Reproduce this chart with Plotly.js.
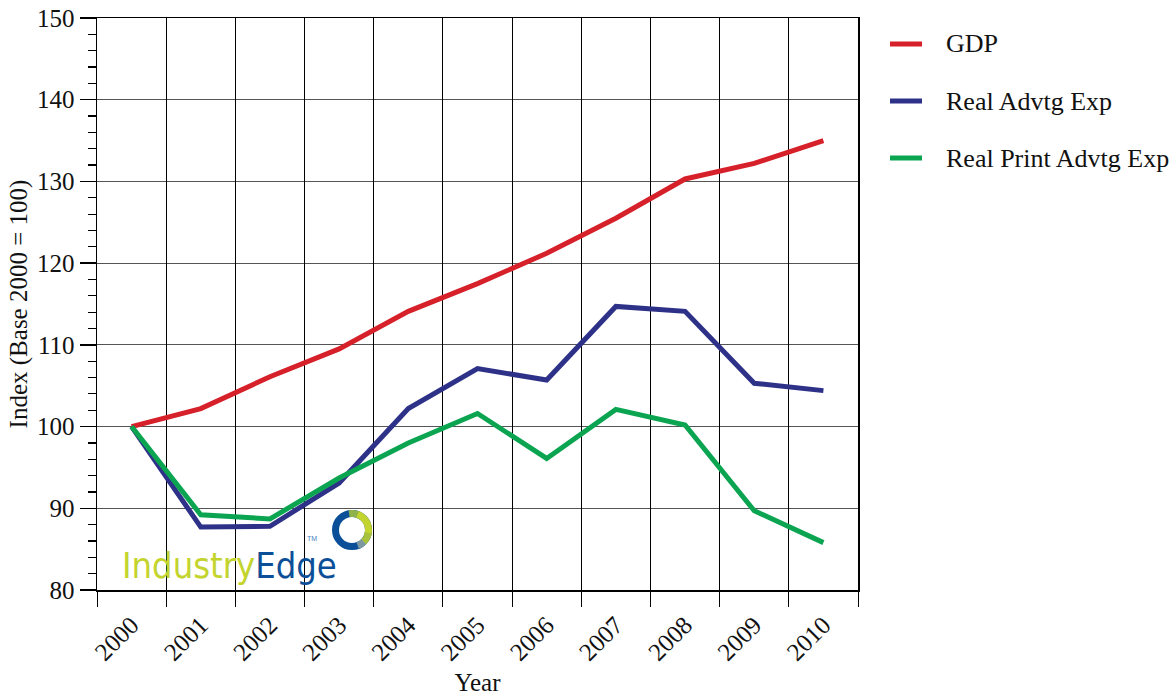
<!DOCTYPE html>
<html><head><meta charset="utf-8">
<script src="https://cdn.plot.ly/plotly-3.0.1.min.js"></script>
<style>html,body{margin:0;padding:0;background:#fff}#chart{width:1176px;height:696px}</style>
</head><body><div id="chart"></div>
<script>
// ---- data ----
const years = ['2000','2001','2002','2003','2004','2005','2006','2007','2008','2009','2010'];
const gdp = [100, 102.2, 106.1, 109.5, 114.1, 117.5, 121.2, 125.5, 130.3, 132.2, 135.0];
const realAdvtgExp = [100, 87.7, 87.8, 93.1, 102.2, 107.1, 105.7, 114.7, 114.1, 105.3, 104.4];
const realPrintAdvtgExp = [100, 89.2, 88.7, 93.7, 98.0, 101.6, 96.1, 102.1, 100.2, 89.7, 85.8];
const seriesNames = ['GDP', 'Real Advtg Exp', 'Real Print Advtg Exp'];
const yTickVals = [80, 90, 100, 110, 120, 130, 140, 150];

const seriesValues = [gdp, realAdvtgExp, realPrintAdvtgExp];
const seriesColors = ['#D6202A', '#2E3188', '#0BA552'];
const serif = '"Liberation Serif", "Times New Roman", Times, serif';

const traces = seriesValues.map((vals, i) => ({
  type: 'scatter', mode: 'lines', x: years, y: vals, name: seriesNames[i],
  line: {color: seriesColors[i], width: 5}, showlegend: false, hoverinfo: 'x+y+name'
}));
// invisible helper trace so the band-edge grid axis is drawn
traces.push({type:'scatter', mode:'none', x:[-0.5, 10.5], y:[null, null], xaxis:'x2', yaxis:'y', showlegend:false, hoverinfo:'skip'});

// manual legend, built from the series arrays
const W = 761, H = 572;
const legendY = [44, 101, 158];
const shapes = [];
const annotations = [];
seriesNames.forEach((n, i) => {
  const yp = (590 - legendY[i]) / H;
  shapes.push({type:'line', xref:'paper', yref:'paper', x0:(890-97)/W, x1:(922-97)/W, y0:yp, y1:yp,
    line:{color:seriesColors[i], width:5}});
  annotations.push({xref:'paper', yref:'paper', x:(944-97)/W, y:yp, xanchor:'left', yanchor:'middle',
    text:n, showarrow:false, font:{family:serif, size:26, color:'#111'}});
});

// logo
const logoBlue = '#0B4F98', logoGreen = '#C4D42E';
annotations.push({xref:'paper', yref:'paper', x:(120-97)/W, y:(590-565)/H, xanchor:'left', yanchor:'middle',
  showarrow:false,
  text:'<span style="color:'+logoGreen+'">Industry</span><span style="color:'+logoBlue+'">Edge</span>',
  font:{family:'"DejaVu Sans Condensed", "DejaVu Sans", sans-serif', size:36, color:logoBlue}});
annotations.push({xref:'paper', yref:'paper', x:(305-97)/W, y:(590-538)/H, xanchor:'left', yanchor:'middle',
  showarrow:false, text:'TM', font:{family:'Liberation Sans, sans-serif', size:7, color:'#4A7FC0'}});
const cx = (352-97)/W, cy = (590-530)/H, r = 16.5;
shapes.push({type:'circle', xref:'paper', yref:'paper', xsizemode:'pixel', ysizemode:'pixel',
  xanchor:cx, yanchor:cy, x0:-r, x1:r, y0:-r, y1:r, line:{color:logoBlue, width:7}});
// gradient-ish arc on right side
function arcPath(a0, a1) {
  let p = '';
  const n = 16;
  for (let k = 0; k <= n; k++) {
    const a = (a0 + (a1 - a0) * k / n) * Math.PI / 180;
    p += (k === 0 ? 'M' : 'L') + (r * Math.cos(a)).toFixed(2) + ',' + (r * Math.sin(a)).toFixed(2);
  }
  return p;
}
const arcs = [[100, 60, '#8FB24A'], [70, -20, logoGreen], [-10, -50, '#A9C23C'], [-45, -70, '#7E98A0']];
arcs.forEach(a => shapes.push({type:'path', xref:'paper', yref:'paper', xsizemode:'pixel', ysizemode:'pixel',
  xanchor:cx, yanchor:cy, path:arcPath(a[0], a[1]), line:{color:a[2], width:7}}));

const layout = {
  width: 1176, height: 696,
  margin: {l:97, r:318, t:18, b:106},
  paper_bgcolor:'#fff', plot_bgcolor:'#fff',
  font: {family: serif, size: 25, color:'#111'},
  showlegend: false,
  xaxis: {
    type:'category', range:[-0.5, 10.5], fixedrange:true,
    showgrid:false, zeroline:false,
    showline:true, mirror:true, linecolor:'#000', linewidth:1.5,
    ticks:'outside', ticklen:9, tickcolor:'rgba(0,0,0,0)',
    tickangle:-45, tickfont:{family:serif, size:25, color:'#111'},
    title:{text:'Year', font:{family:serif, size:25, color:'#111'}, standoff:10}
  },
  xaxis2: {
    overlaying:'x', anchor:'y', side:'bottom', type:'linear', range:[-0.5, 10.5],
    tick0:-0.5, dtick:1, showgrid:true, gridcolor:'#000', gridwidth:1,
    ticks:'outside', ticklen:16, tickcolor:'#000', tickwidth:1,
    showticklabels:false, zeroline:false, showline:false
  },
  yaxis: {
    range:[80, 150], tickvals: yTickVals, fixedrange:true,
    showgrid:true, gridcolor:'#555', gridwidth:1.2, zeroline:false,
    showline:true, mirror:true, linecolor:'#000', linewidth:1.5,
    ticks:'outside', ticklen:16, tickcolor:'#000', tickwidth:1.5,
    minor:{dtick:2, ticks:'outside', ticklen:8, tickcolor:'#000', tickwidth:1.2, showgrid:false},
    tickfont:{family:serif, size:25, color:'#111'},
    title:{text:'Index (Base 2000 = 100)', font:{family:serif, size:25, color:'#111'}, standoff:2}
  },
  shapes: shapes,
  annotations: annotations
};

Plotly.newPlot('chart', traces, layout, {displayModeBar:false, staticPlot:true});
</script>
</body></html>
